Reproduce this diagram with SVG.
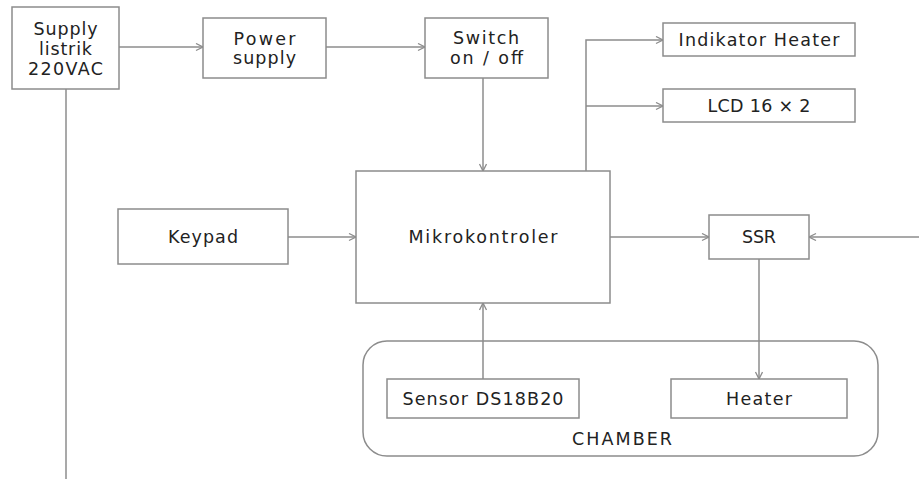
<svg xmlns="http://www.w3.org/2000/svg" width="919" height="479" viewBox="0 0 919 479">
<style>
.box{fill:#fff;stroke:#8c8c8c;stroke-width:1.5}
.grp{fill:none;stroke:#8c8c8c;stroke-width:1.5}
.lbl{font-family:"DejaVu Sans","Liberation Sans",sans-serif;font-size:17.5px;fill:#222;text-anchor:middle}
.ln{fill:none;stroke:#8c8c8c;stroke-width:1.5}
.arr{marker-end:url(#ah)}
</style>
<defs>
<marker id="ah" markerUnits="userSpaceOnUse" markerWidth="10" markerHeight="10" refX="8" refY="4" orient="auto">
<path d="M1,0.5 L8,4 L1,7.5" fill="none" stroke="#8c8c8c" stroke-width="1.3"/>
</marker>
</defs>
<rect width="919" height="479" fill="#fff"/>
<g id="chamber">
<rect class="grp" x="363" y="341" width="515" height="115" rx="24"/>
<text class="lbl" x="622" y="445" textLength="100">CHAMBER</text>
</g>
<g id="connectors">
<path class="ln arr" d="M119,47 H203"/>
<path class="ln arr" d="M326,47 H425"/>
<path class="ln arr" d="M483,78 V171"/>
<path class="ln" d="M66,89 V479"/>
<path class="ln arr" d="M586,171 V40 H663"/>
<path class="ln arr" d="M586,106 H663"/>
<path class="ln arr" d="M288,237 H356"/>
<path class="ln arr" d="M610,237 H709"/>
<path class="ln arr" d="M919,237 H809"/>
<path class="ln arr" d="M483,379 V303"/>
<path class="ln arr" d="M759,259 V379"/>
</g>
<g id="supply">
<rect class="box" x="12" y="7" width="107" height="82"/>
<text class="lbl" x="65.5" y="35" textLength="64">Supply</text>
<text class="lbl" x="65.5" y="55" textLength="53">listrik</text>
<text class="lbl" x="65.5" y="75" textLength="75">220VAC</text>
</g>
<g id="power">
<rect class="box" x="203" y="18" width="123" height="60"/>
<text class="lbl" x="264.5" y="45" textLength="62">Power</text>
<text class="lbl" x="264.5" y="64" textLength="63">supply</text>
</g>
<g id="switch">
<rect class="box" x="425" y="18" width="123" height="60"/>
<text class="lbl" x="486" y="44" textLength="66">Switch</text>
<text class="lbl" x="486.5" y="64" textLength="73">on / off</text>
</g>
<g id="indikator">
<rect class="box" x="663" y="23" width="192" height="33"/>
<text class="lbl" x="759" y="45.5" textLength="161">Indikator Heater</text>
</g>
<g id="lcd">
<rect class="box" x="663" y="89" width="192" height="33"/>
<text class="lbl" x="759" y="112" textLength="103">LCD 16 × 2</text>
</g>
<g id="keypad">
<rect class="box" x="118" y="209" width="170" height="55"/>
<text class="lbl" x="203" y="243" textLength="70">Keypad</text>
</g>
<g id="mikro">
<rect class="box" x="356" y="171" width="254" height="132"/>
<text class="lbl" x="483" y="243" textLength="149">Mikrokontroler</text>
</g>
<g id="ssr">
<rect class="box" x="709" y="215" width="100" height="44"/>
<text class="lbl" x="759" y="243" textLength="34">SSR</text>
</g>
<g id="sensor">
<rect class="box" x="387" y="379" width="192" height="39"/>
<text class="lbl" x="483" y="405" textLength="161">Sensor DS18B20</text>
</g>
<g id="heater">
<rect class="box" x="671" y="379" width="176" height="39"/>
<text class="lbl" x="759" y="405" textLength="66">Heater</text>
</g>
</svg>
